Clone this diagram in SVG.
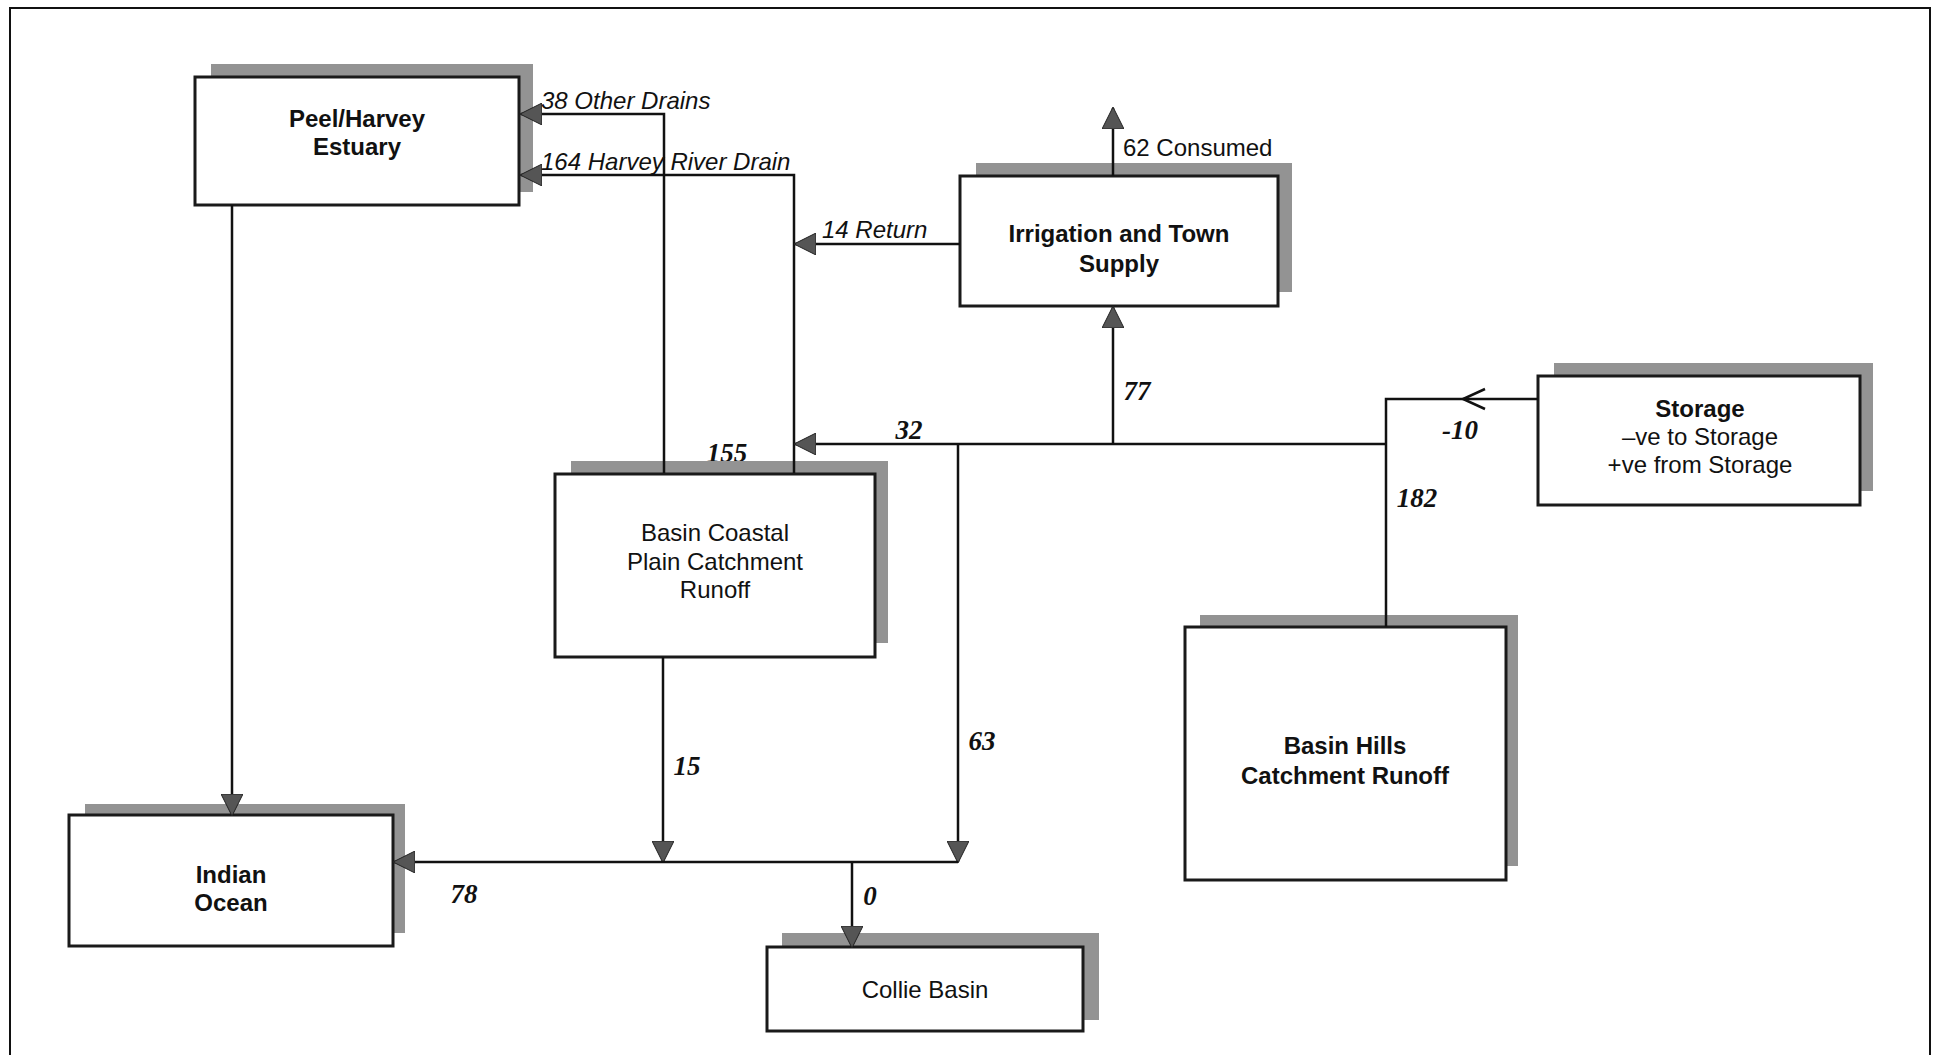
<svg xmlns="http://www.w3.org/2000/svg" width="1940" height="1055" viewBox="0 0 1940 1055">
<style>
.frame{fill:none;stroke:#111;stroke-width:2}
.shadow{fill:#939393}
.box{fill:#fff;stroke:#1a1a1a;stroke-width:3}
.nb{font-family:"Liberation Sans",Arial,sans-serif;font-size:24px;font-weight:bold;fill:#111;text-anchor:middle}
.nr{font-family:"Liberation Sans",Arial,sans-serif;font-size:24px;fill:#111;text-anchor:middle}
.conn{fill:none;stroke:#111;stroke-width:2.5}
.li{font-family:"Liberation Sans",Arial,sans-serif;font-size:24px;font-style:italic;fill:#111}
.lr{font-family:"Liberation Sans",Arial,sans-serif;font-size:24px;fill:#111}
.num{font-family:"Liberation Serif","Times New Roman",serif;font-size:27px;font-style:italic;font-weight:bold;fill:#111;text-anchor:middle}
</style>
<defs>
<marker id="arr" viewBox="0 0 22 22" refX="21" refY="11" markerWidth="22" markerHeight="22" markerUnits="userSpaceOnUse" orient="auto">
<path d="M0,0 L22,11 L0,22 z" fill="#555" stroke="#222" stroke-width="1"/>
</marker>
</defs>
<rect width="1940" height="1055" fill="#fff"/>
<path class="frame" d="M10,1060 V8 H1930 V1060"/>

<g id="peel">
<rect class="shadow" x="211" y="64" width="322" height="128"/>
<rect class="box" x="195" y="77" width="324" height="128"/>
<text class="nb" x="357" y="127">Peel/Harvey</text>
<text class="nb" x="357" y="155">Estuary</text>
</g>
<g id="irrigation">
<rect class="shadow" x="976" y="163" width="316" height="129"/>
<rect class="box" x="960" y="176" width="318" height="130"/>
<text class="nb" x="1119" y="242">Irrigation and Town</text>
<text class="nb" x="1119" y="272">Supply</text>
</g>
<g id="storage">
<rect class="shadow" x="1554" y="363" width="319" height="128"/>
<rect class="box" x="1538" y="376" width="322" height="129"/>
<text class="nb" x="1700" y="417">Storage</text>
<text class="nr" x="1700" y="445">–ve to Storage</text>
<text class="nr" x="1700" y="473">+ve from Storage</text>
</g>
<g id="coastal">
<text class="num" x="727" y="462">155</text>
<rect class="shadow" x="571" y="461" width="317" height="182"/>
<rect class="box" x="555" y="474" width="320" height="183"/>
<text class="nr" x="715" y="541">Basin Coastal</text>
<text class="nr" x="715" y="570">Plain Catchment</text>
<text class="nr" x="715" y="598">Runoff</text>
</g>
<g id="hills">
<rect class="shadow" x="1200" y="615" width="318" height="251"/>
<rect class="box" x="1185" y="627" width="321" height="253"/>
<text class="nb" x="1345" y="754">Basin Hills</text>
<text class="nb" x="1345" y="784">Catchment Runoff</text>
</g>
<g id="ocean">
<rect class="shadow" x="85" y="804" width="320" height="129"/>
<rect class="box" x="69" y="815" width="324" height="131"/>
<text class="nb" x="231" y="883">Indian</text>
<text class="nb" x="231" y="911">Ocean</text>
</g>
<g id="collie">
<rect class="shadow" x="782" y="933" width="317" height="87"/>
<rect class="box" x="767" y="947" width="316" height="84"/>
<text class="nr" x="925" y="998">Collie Basin</text>
</g>

<g id="connectors">
<path class="conn" d="M232,205 V815" marker-end="url(#arr)"/>
<path class="conn" d="M664,473 V114 H521" marker-end="url(#arr)"/>
<path class="conn" d="M794,473 V175 H521" marker-end="url(#arr)"/>
<path class="conn" d="M960,244 H795" marker-end="url(#arr)"/>
<path class="conn" d="M1113,176 V108" marker-end="url(#arr)"/>
<path class="conn" d="M1113,444 V307" marker-end="url(#arr)"/>
<path class="conn" d="M1386,444 H795" marker-end="url(#arr)"/>
<path class="conn" d="M1386,627 V399 H1538"/>
<path class="conn" d="M1485,389 L1463,399 L1485,409"/>
<path class="conn" d="M958,444 V862" marker-end="url(#arr)"/>
<path class="conn" d="M663,657 V862" marker-end="url(#arr)"/>
<path class="conn" d="M958,862 H394" marker-end="url(#arr)"/>
<path class="conn" d="M852,862 V947" marker-end="url(#arr)"/>
<text class="li" x="541" y="109">38 Other Drains</text>
<text class="li" x="541" y="170">164 Harvey River Drain</text>
<text class="li" x="822" y="238">14 Return</text>
<text class="lr" x="1123" y="156">62 Consumed</text>
<text class="num" x="909" y="439">32</text>
<text class="num" x="1137" y="400">77</text>
<text class="num" x="1460" y="439">-10</text>
<text class="num" x="1417" y="507">182</text>
<text class="num" x="982" y="750">63</text>
<text class="num" x="687" y="775">15</text>
<text class="num" x="464" y="903">78</text>
<text class="num" x="870" y="905">0</text>
</g>
</svg>
